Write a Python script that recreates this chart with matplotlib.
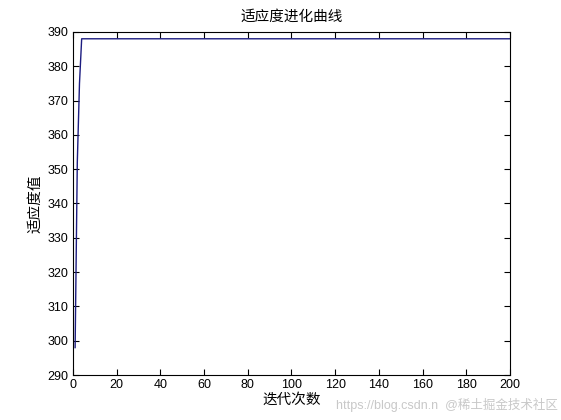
import matplotlib.pyplot as plt

plt.rcParams['font.family'] = ['Liberation Sans', 'Noto Sans CJK SC', 'DejaVu Sans']

# Data: best fitness per generation (change points, then flat)
generations = [1, 2, 3, 4, 200]
fitness = [298, 352, 375, 388, 388]

x_ticks = list(range(0, 201, 20))
y_ticks = list(range(290, 391, 10))

fig = plt.figure(figsize=(5.61, 4.20), dpi=100)
ax = fig.add_axes([0.130, 0.107, 0.779, 0.817])

ax.plot(generations, fitness, color='#1c1c80', linewidth=1.0)

ax.set_xlim(0, 200)
ax.set_ylim(290, 390)
ax.set_xticks(x_ticks)
ax.set_yticks(y_ticks)
ax.tick_params(direction='in', top=True, right=True, labelsize=9, length=4, pad=3)
for s in ax.spines.values():
    s.set_linewidth(0.8)

cjk = ['Noto Sans CJK SC', 'DejaVu Sans']
ax.set_title('适应度进化曲线', fontsize=10.5, pad=8, family=cjk)
ax.set_xlabel('迭代次数', fontsize=10.5, labelpad=1, family=cjk)
ax.set_ylabel('适应度值', fontsize=10.5, labelpad=4, family=cjk)

# watermark
fig.text(0.995, 0.018, 'https://blog.csdn.n  @稀土掘金技术社区', ha='right', va='bottom',
         fontsize=9, color='#c8c8c8', family=['Liberation Sans', 'Noto Sans CJK SC'])

fig.savefig('out.png', dpi=100)
